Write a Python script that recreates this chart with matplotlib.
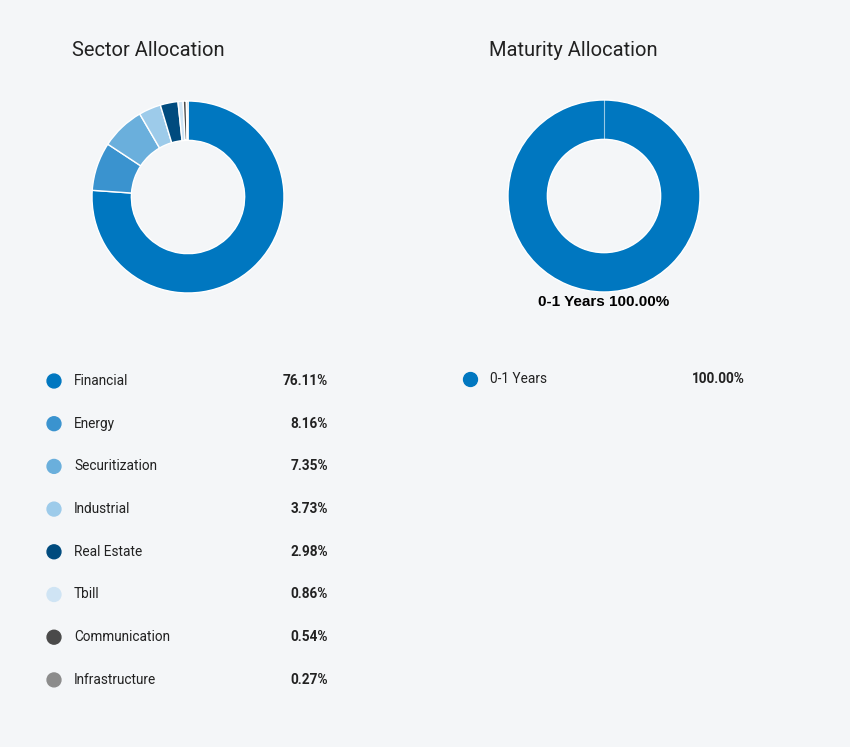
import matplotlib.pyplot as plt
import numpy as np

plt.rcParams['font.family'] = ['Roboto', 'DejaVu Sans']

sectors = ['Financial', 'Energy', 'Securitization', 'Industrial', 'Real Estate',
           'Tbill', 'Communication', 'Infrastructure']
sector_pct = [76.11, 8.16, 7.35, 3.73, 2.98, 0.86, 0.54, 0.27]
sector_colors = ['#0077c0', '#3a93cf', '#6aafdc', '#9dcbea', '#004b7e',
                 '#cfe4f4', '#4a4a4a', '#8c8c8c']

maturities = ['0-1 Years']
maturity_pct = [100.00]
maturity_colors = ['#0077c0']

bg = '#f4f6f8'
txt = '#222222'
W, H = 850, 747
hole = 0.59

fig = plt.figure(figsize=(W / 100, H / 100), dpi=100)
fig.patch.set_facecolor(bg)


def donut(cx, cy, r, vals, cols):
    ax = fig.add_axes([(cx - r) / W, 1 - (cy + r) / H, 2 * r / W, 2 * r / H])
    ax.pie(vals, colors=cols, startangle=90, counterclock=False, radius=1,
           wedgeprops=dict(width=1 - hole, edgecolor='white', linewidth=1))
    ax.set_xlim(-1, 1)
    ax.set_ylim(-1, 1)
    ax.axis('off')
    return ax


ax1 = donut(188, 197, 96, sector_pct, sector_colors)
ax2 = donut(604, 196, 96, maturity_pct, maturity_colors)
# seam of the single full slice
ax2.plot([0, 0], [hole, 1], color='white', lw=0.8, alpha=0.6)

# overlay for titles / legends in pixel coords
ov = fig.add_axes([0, 0, 1, 1])
ov.set_xlim(0, W)
ov.set_ylim(H, 0)
ov.axis('off')
ov.patch.set_alpha(0)

ov.text(72, 50, 'Sector Allocation', fontsize=14.5, color=txt, va='center', ha='left')
ov.text(489, 50, 'Maturity Allocation', fontsize=14.5, color=txt, va='center', ha='left')

ov.text(604, 302, '%s %.2f%%' % (maturities[0], maturity_pct[0]), fontsize=11,
        fontweight='bold', color='black', ha='center', va='center',
        family=['Liberation Sans', 'DejaVu Sans'])

row_y = 381 + np.arange(len(sectors)) * 42.7
ov.scatter([54] * len(sectors), row_y, s=100, c=sector_colors, zorder=3)
for y, name, p in zip(row_y, sectors, sector_pct):
    ov.text(74, y, name, fontsize=9.8, color=txt, va='center', ha='left')
    ov.text(328, y, '%.2f%%' % p, fontsize=9.8, fontweight='bold', color=txt,
            va='center', ha='right')

ov.scatter([470], [379], s=100, c=maturity_colors, zorder=3)
ov.text(490, 379, maturities[0], fontsize=9.8, color=txt, va='center', ha='left')
ov.text(745, 379, '%.2f%%' % maturity_pct[0], fontsize=9.8, fontweight='bold',
        color=txt, va='center', ha='right')

fig.savefig('out.png', dpi=100, facecolor=bg)
